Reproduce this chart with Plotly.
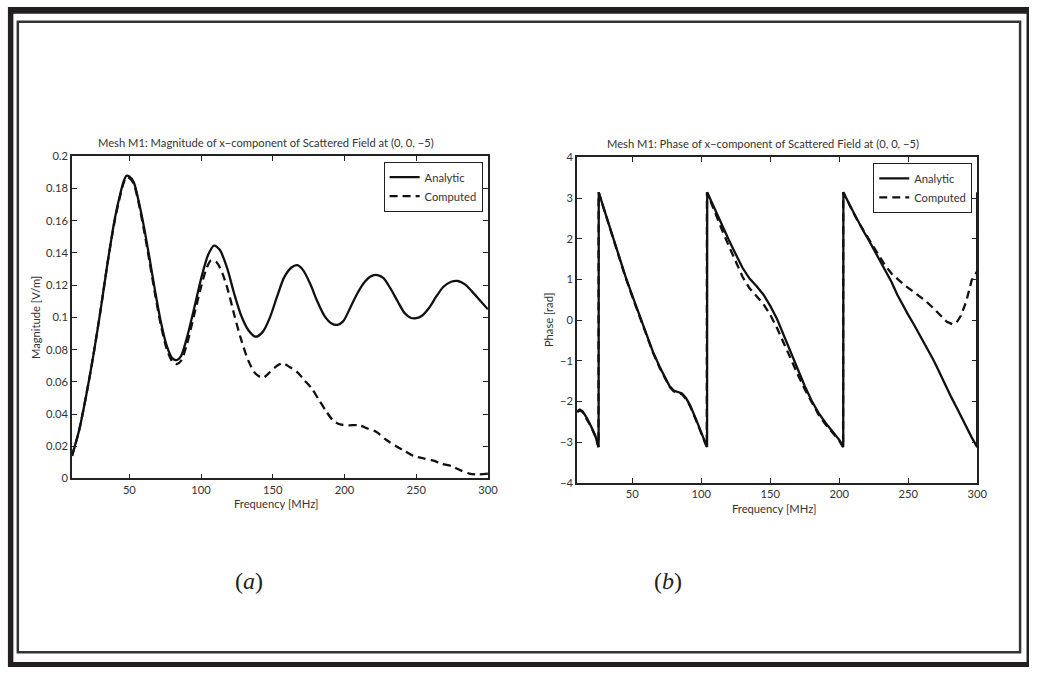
import plotly.graph_objects as go

W, H = 1039, 673

# ---------------- data ----------------
mag_freq_analytic = [10, 15, 20, 25, 30, 35, 40, 44, 46, 48, 50, 53, 56, 60, 64, 68, 72, 76, 80, 83, 86, 90,
                     95, 100, 105, 109, 113, 118, 123, 128, 133, 138, 143, 148, 153, 158, 163, 167, 171, 176, 181, 186,
                     191, 195, 199, 204, 209, 214, 219, 223, 227, 232, 237, 242, 246, 250, 254, 259, 264, 269, 274, 279,
                     284, 289, 294, 300]
mag_analytic = [0.014, 0.030, 0.052, 0.077, 0.105, 0.135, 0.162, 0.178, 0.1845, 0.188, 0.1875, 0.184,
                0.174, 0.157, 0.137, 0.116, 0.097, 0.0825, 0.0745, 0.0735, 0.076, 0.087,
                0.105, 0.124, 0.139, 0.1446, 0.142, 0.131, 0.115, 0.101, 0.092, 0.088,
                0.091, 0.100, 0.113, 0.125, 0.131, 0.1324, 0.1295, 0.121, 0.110, 0.101,
                0.0962, 0.0954, 0.0975, 0.106, 0.115, 0.122, 0.1258, 0.1263, 0.1245, 0.118,
                0.110, 0.1025, 0.0998, 0.0995, 0.101, 0.106, 0.113, 0.119, 0.122, 0.1226,
                0.1205, 0.116, 0.111, 0.105]

mag_freq_computed = [10, 15, 20, 25, 30, 35, 40, 44, 46, 48, 50, 53, 56, 60, 64, 68, 72, 76, 80, 83, 86, 90,
                     95, 100, 104, 107, 111, 115, 119, 123, 128, 133, 138, 143, 148, 153, 157, 162, 167, 172, 177, 182,
                     187, 192, 197, 203, 210, 216, 222, 229, 236, 242, 248, 255, 262, 268, 275, 281, 287, 293, 300]
mag_computed = [0.014, 0.030, 0.052, 0.077, 0.105, 0.135, 0.161, 0.177, 0.1835, 0.187, 0.1865, 0.183,
                0.173, 0.155, 0.135, 0.114, 0.095, 0.0805, 0.0725, 0.071, 0.073, 0.083,
                0.101, 0.119, 0.131, 0.1355, 0.134, 0.127, 0.116, 0.102, 0.086, 0.073,
                0.065, 0.0625, 0.066, 0.070, 0.0715, 0.069, 0.066, 0.061, 0.056, 0.049,
                0.042, 0.036, 0.0335, 0.033, 0.033, 0.031, 0.029, 0.024, 0.020, 0.017,
                0.014, 0.0125, 0.011, 0.009, 0.0075, 0.005, 0.003, 0.0025, 0.003]

phase_freq_analytic = [10, 12, 14, 17, 20, 23, 25.6,
                       25.7, 30, 35, 40, 45, 50, 55, 60, 65, 70, 74, 77, 80, 83, 86, 89, 92, 96, 100, 104.2,
                       104.3, 110, 115, 120, 125, 130, 135, 140, 145, 150, 155, 160, 165, 170, 175, 180, 185, 190, 195, 200, 202.9,
                       203.0, 208, 213, 218, 221, 226, 230, 234, 238, 242, 246, 250, 254, 258, 263, 268, 272, 276, 281, 286, 291, 296, 300,
                       300]
phase_analytic = [-2.24, -2.20, -2.24, -2.40, -2.60, -2.82, -3.12,
                  3.14, 2.68, 2.14, 1.60, 1.08, 0.60, 0.14, -0.32, -0.78, -1.16, -1.44, -1.62, -1.73, -1.76, -1.80, -1.92, -2.10, -2.42, -2.76, -3.12,
                  3.14, 2.70, 2.33, 1.97, 1.62, 1.28, 1.02, 0.84, 0.63, 0.35, 0.02, -0.40, -0.82, -1.22, -1.62, -1.98, -2.28, -2.52, -2.72, -2.94, -3.12,
                  3.14, 2.80, 2.46, 2.16, 1.99, 1.68, 1.44, 1.20, 0.93, 0.63, 0.36, 0.13, -0.10, -0.34, -0.64, -0.96, -1.24, -1.53, -1.88, -2.21, -2.55, -2.88, -3.12,
                  3.14]

phase_freq_computed = [10, 12, 14, 17, 20, 23, 25.5,
                       25.6, 30, 35, 40, 45, 50, 55, 60, 65, 70, 74, 77, 80, 83, 86, 89, 92, 96, 100, 104.0,
                       104.1, 110, 115, 120, 125, 130, 135, 140, 145, 150, 155, 160, 165, 170, 175, 180, 185, 190, 195, 200, 202.8,
                       202.9, 208, 213, 218, 223, 228, 233, 238, 243, 248, 253, 258, 263, 268, 273, 278, 282, 285, 288, 292, 296, 300]
phase_computed = [-2.26, -2.22, -2.26, -2.42, -2.61, -2.84, -3.12,
                  3.14, 2.66, 2.12, 1.58, 1.06, 0.58, 0.12, -0.34, -0.80, -1.18, -1.46, -1.64, -1.75, -1.78, -1.82, -1.94, -2.12, -2.44, -2.78, -3.12,
                  3.14, 2.62, 2.22, 1.82, 1.42, 1.06, 0.78, 0.60, 0.40, 0.13, -0.20, -0.58, -0.98, -1.34, -1.70, -2.03, -2.32, -2.56, -2.77, -2.96, -3.12,
                  3.14, 2.80, 2.46, 2.18, 1.90, 1.62, 1.36, 1.14, 0.98, 0.84, 0.72, 0.60, 0.46, 0.30, 0.12, -0.04, -0.10, -0.06, 0.10, 0.45, 0.98, 1.20]

x_ticks = [50, 100, 150, 200, 250, 300]
mag_ticks = [0, 0.02, 0.04, 0.06, 0.08, 0.1, 0.12, 0.14, 0.16, 0.18, 0.2]
mag_tick_text = ["0", "0.02", "0.04", "0.06", "0.08", "0.1", "0.12", "0.14", "0.16", "0.18", "0.2"]
phase_ticks = [-4, -3, -2, -1, 0, 1, 2, 3, 4]
phase_tick_text = ["\u22124", "\u22123", "\u22122", "\u22121", "0", "1", "2", "3", "4"]

title_a = "Mesh M1: Magnitude of x\u2212component of Scattered Field at (0, 0, \u22125)"
title_b = "Mesh M1: Phase of x\u2212component of Scattered Field at (0, 0, \u22125)"

# ---------------- helpers ----------------
def px(x):
    return x / W

def py(y):
    return 1 - y / H

FONT = "Lato"
INK = "#222222"
TXT = "#333333"
FS = 11.2

fig = go.Figure()

fig.add_trace(go.Scatter(x=mag_freq_analytic, y=mag_analytic, mode="lines", name="Analytic",
                         line=dict(color="#111111", width=2.3, shape="spline", smoothing=0.8),
                         xaxis="x", yaxis="y", legend="legend"))
fig.add_trace(go.Scatter(x=mag_freq_computed, y=mag_computed, mode="lines", name="Computed",
                         line=dict(color="#111111", width=2.3, dash="8px,5px", shape="spline", smoothing=0.8),
                         xaxis="x", yaxis="y", legend="legend"))
fig.add_trace(go.Scatter(x=phase_freq_analytic, y=phase_analytic, mode="lines", name="Analytic",
                         line=dict(color="#111111", width=2.3),
                         xaxis="x2", yaxis="y2", legend="legend2"))
fig.add_trace(go.Scatter(x=phase_freq_computed, y=phase_computed, mode="lines", name="Computed",
                         line=dict(color="#111111", width=2.3, dash="8px,5px"),
                         xaxis="x2", yaxis="y2", legend="legend2"))

axis_common = dict(showline=True, linecolor=INK, linewidth=1.5, mirror="ticks", ticks="inside",
                   ticklen=5, tickwidth=1, tickcolor=INK, showgrid=False, zeroline=False,
                   tickfont=dict(family=FONT, size=FS, color=TXT))

fig.update_layout(
    width=W, height=H, autosize=False, margin=dict(l=0, r=0, t=0, b=0, pad=0),
    paper_bgcolor="white", plot_bgcolor="rgba(0,0,0,0)",
    showlegend=True,
    xaxis=dict(domain=[px(72.7), px(492.7)], range=[10, 300], anchor="y",
               tickvals=x_ticks, **axis_common),
    yaxis=dict(domain=[py(480.7), py(152.3)], range=[0, 0.2], anchor="x",
               tickvals=mag_ticks, ticktext=mag_tick_text, **axis_common),
    xaxis2=dict(domain=[px(582.7), px(986.7)], range=[10, 300], anchor="y2",
                tickvals=x_ticks, **axis_common),
    yaxis2=dict(domain=[py(485.3), py(153.3)], range=[-4, 4], anchor="x2",
                tickvals=phase_ticks, ticktext=phase_tick_text, **axis_common),
    legend=dict(x=px(487.3), y=py(157.7), xanchor="right", yanchor="top",
                bgcolor="white", bordercolor=INK, borderwidth=1,
                font=dict(family=FONT, size=FS, color=TXT), tracegroupgap=0, itemwidth=30),
    legend2=dict(x=px(981.7), y=py(159), xanchor="right", yanchor="top",
                 bgcolor="white", bordercolor=INK, borderwidth=1,
                 font=dict(family=FONT, size=FS, color=TXT), tracegroupgap=0, itemwidth=30),
)

# frame decoration (outer thick band + thin inner rule)
shapes = [
    dict(type="rect", xref="paper", yref="paper", x0=px(8), x1=px(1039), y0=py(673), y1=py(0),
         fillcolor="#231f20", line=dict(width=0), layer="below"),
    dict(type="rect", xref="paper", yref="paper", x0=px(13.5), x1=px(1036.5), y0=py(668), y1=py(7),
         fillcolor="white", line=dict(width=0), layer="below"),
    dict(type="rect", xref="paper", yref="paper", x0=px(18), x1=px(1030), y0=py(658), y1=py(15),
         fillcolor="rgba(0,0,0,0)", line=dict(color="#333333", width=2.5), layer="below"),
]
fig.update_layout(shapes=shapes)

ann = []
ann.append(dict(text=title_a, x=px(268.8), y=py(138), xref="paper", yref="paper", showarrow=False,
                xanchor="center", yanchor="middle", font=dict(family=FONT, size=FS, color=TXT)))
ann.append(dict(text=title_b, x=px(770), y=py(139.3), xref="paper", yref="paper", showarrow=False,
                xanchor="center", yanchor="middle", font=dict(family=FONT, size=FS, color=TXT)))
ann.append(dict(text="Frequency [MHz]", x=px(279), y=py(506.7), xref="paper", yref="paper", showarrow=False,
                xanchor="center", yanchor="middle", font=dict(family=FONT, size=FS, color=TXT)))
ann.append(dict(text="Frequency [MHz]", x=px(781.3), y=py(511.7), xref="paper", yref="paper", showarrow=False,
                xanchor="center", yanchor="middle", font=dict(family=FONT, size=FS, color=TXT)))
ann.append(dict(text="Magnitude [V/m]", x=px(36), y=py(316.5), xref="paper", yref="paper", showarrow=False,
                textangle=-90, xanchor="center", yanchor="middle", font=dict(family=FONT, size=FS, color=TXT)))
ann.append(dict(text="Phase [rad]", x=px(553.3), y=py(319.3), xref="paper", yref="paper", showarrow=False,
                textangle=-90, xanchor="center", yanchor="middle", font=dict(family=FONT, size=FS, color=TXT)))
ann.append(dict(text="(<i>a</i>)", x=px(251), y=py(585), xref="paper", yref="paper", showarrow=False,
                xanchor="center", yanchor="middle", font=dict(family="Liberation Serif", size=24, color="#222222")))
ann.append(dict(text="(<i>b</i>)", x=px(674), y=py(585), xref="paper", yref="paper", showarrow=False,
                xanchor="center", yanchor="middle", font=dict(family="Liberation Serif", size=24, color="#222222")))
fig.update_layout(annotations=ann)

post = (
    "document.documentElement.style.margin='0';"
    "document.documentElement.style.padding='0';"
    "document.documentElement.style.overflow='hidden';"
    "document.body.style.margin='0';"
    "document.body.style.padding='0';"
    "document.body.style.overflow='hidden';"
)

fig.write_html("out.html",
               config={"displayModeBar": False, "responsive": False},
               post_script=post)
